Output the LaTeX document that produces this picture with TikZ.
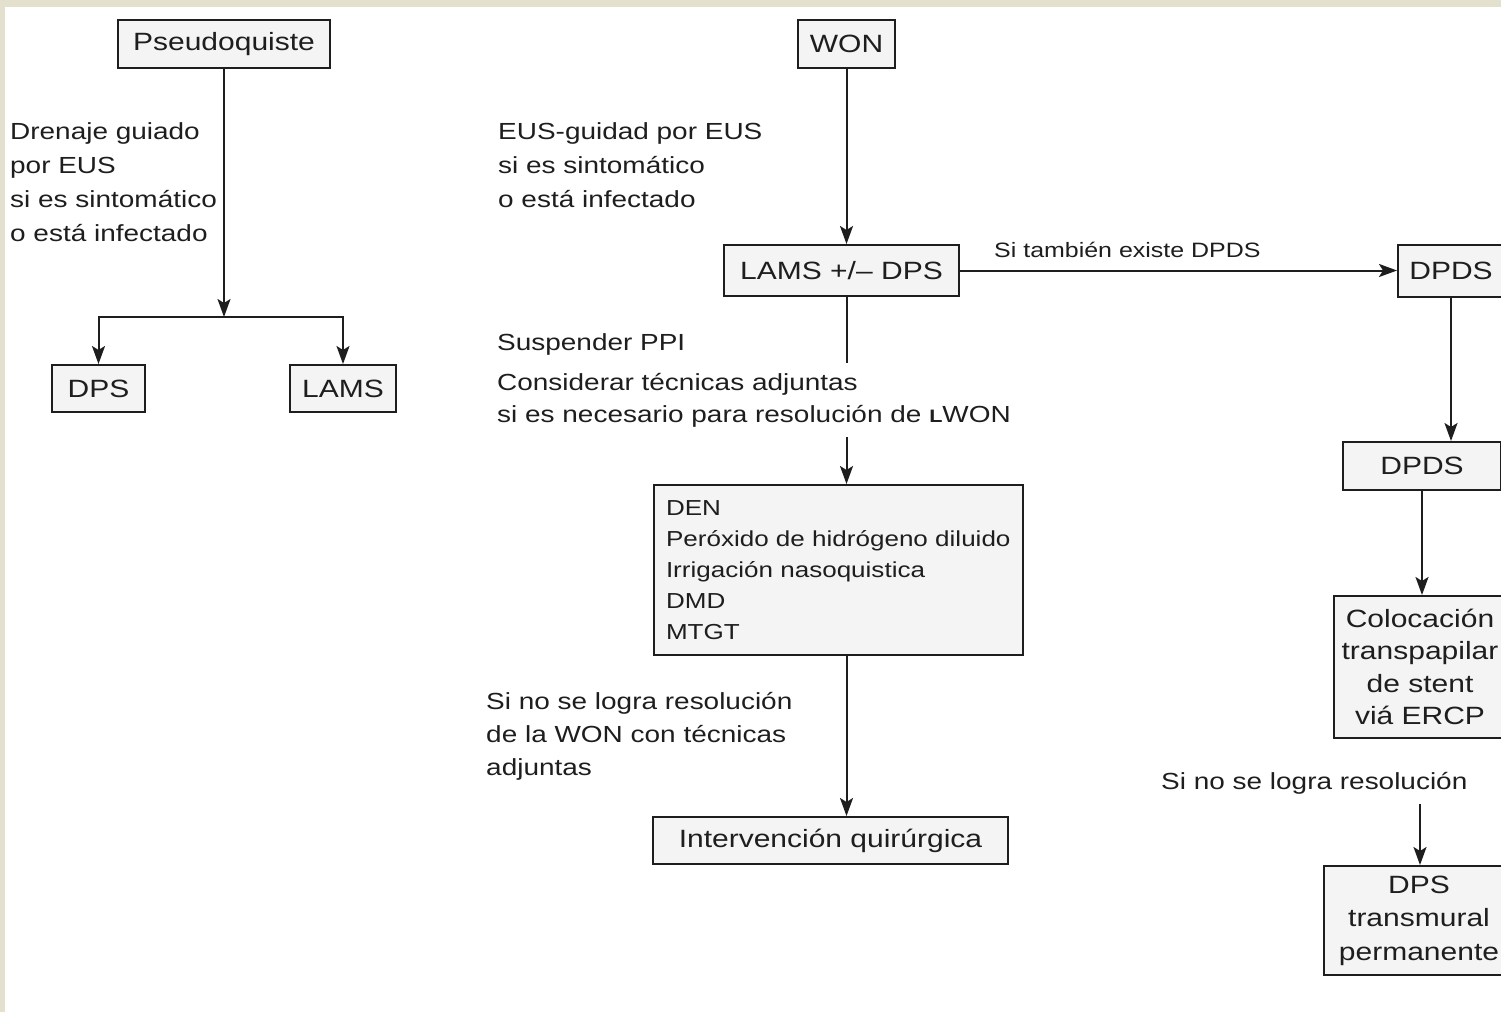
\documentclass[tikz,border=0pt]{standalone}
\usepackage{fontspec}
\setmainfont[FakeStretch=1.2]{Liberation Sans}
\usepackage{tikz}
\usetikzlibrary{
	arrows.meta,
	positioning,
	calc
}
\definecolor{framebg}{HTML}{E3E1CD}
\definecolor{boxfill}{HTML}{F4F4F4}
\definecolor{ink}{HTML}{1E1E1E}

\begin{document}
\begin{tikzpicture}[x=1pt, y=-1pt,
				box/.style={
					rectangle, draw=ink, line width=2pt,
					inner sep=0pt, align=center, fill=boxfill, text=ink,
					font=\fontsize{25}{33}\selectfont
				},
				listbox/.style={
					box, align=left, inner xsep=12pt,
					font=\fontsize{21.7}{31}\selectfont
				},
				note/.style={
					align=left, inner sep=0pt, text=ink,
					font=\fontsize{23.3}{34}\selectfont
				},
				smallnote/.style={
					note, font=\fontsize{20.8}{26}\selectfont
				},
				arrow/.style={-{Stealth[length=18pt, width=13pt, inset=4pt]}, line width=2pt, draw=ink},
				link/.style={line width=2pt, draw=ink},
				]
				
				\useasboundingbox (0,0) rectangle (1501,1012);
				\fill[framebg] (0,0) rectangle (1501,1012);
				\fill[white] (5,7) rectangle (1501,1012);
				\clip (0,0) rectangle (1501,1012);
				
				%pseudoquiste
				\node (pseudo) at (224,44) [box, minimum width=212pt, minimum height=48pt] {Pseudoquiste};
				\node (drenaje) at (10,182) [note, anchor=west] {Drenaje guiado\\por EUS\\si es sintomático\\o está infectado};
				\coordinate (fork) at (224,317);
				\draw [arrow] (pseudo) -- (fork);
				
				\node (dps) at (98.5,388.5) [box, minimum width=93pt, minimum height=47pt] {DPS};
				\node (lams) at (343,388.5) [box, minimum width=106pt, minimum height=47pt] {LAMS};
				\draw [arrow] (fork) -| (dps);
				\draw [arrow] (fork) -| (lams);
				
				%WON
				\node (won) at (846.5,44) [box, minimum width=97pt, minimum height=48pt] {WON};
				\node (eus) at (498,165) [note, anchor=west] {EUS-guidad por EUS\\si es sintomático\\o está infectado};
				
				\node (lamsdps) at (841.5,270.5) [box, minimum width=235pt, minimum height=51pt] {LAMS +/– DPS};
				\draw [arrow] (won) -- (won |- lamsdps.north);
				
				\node (suspender) at (497,344) [note, anchor=west] {Suspender PPI};
				\node (consid) at (497,400) [note, anchor=west, minimum height=74pt, font=\fontsize{23.3}{32}\selectfont] {Considerar técnicas adjuntas\\si es necesario para resolución de {\bfseries\fontsize{18}{18}\selectfont L}WON};
				\draw [link] (won |- lamsdps.south) -- (won |- consid.north);
				
				\node (den) at (838.5,570) [listbox, text width=345pt, minimum height=170pt] {DEN\\Peróxido de hidrógeno diluido\\Irrigación nasoquistica\\DMD\\MTGT};
				\draw [arrow] (won |- consid.south) -- (won |- den.north);
				
				\node (sinlogro) at (486,736) [note, anchor=west, font=\fontsize{23.3}{33}\selectfont] {Si no se logra resolución\\de la WON con técnicas\\adjuntas};
				\node (interv) at (830.5,840.5) [box, minimum width=355pt, minimum height=47pt] {Intervención quirúrgica};
				\draw [arrow] (won |- den.south) -- (won |- interv.north);
				
				%DPDS
				\node (dpdsA) at (1451,271) [box, minimum width=106pt, minimum height=52pt] {DPDS};
				\node (tambien) at (994,250) [smallnote, anchor=west] {Si también existe DPDS};
				\draw [arrow] (lamsdps.east) -- (lamsdps.east -| dpdsA.west);
				
				\node (dpdsB) at (1422,466) [box, minimum width=158pt, minimum height=48pt] {DPDS};
				\draw [arrow] (dpdsA) -- (dpdsA |- dpdsB.north);
				
				\node (coloc) at (1420,667) [box, minimum width=172pt, minimum height=142pt, font=\fontsize{25}{32.5}\selectfont] {Colocación\\transpapilar\\de stent\\viá ERCP};
				\draw [arrow] (dpdsB) -- (dpdsB |- coloc.north);
				
				\node (sinres) at (1161,783) [note, anchor=west, inner ysep=10pt] {Si no se logra resolución};
				\node (permanente) at (1419,920.5) [box, minimum width=190pt, minimum height=109pt, font=\fontsize{25}{33.5}\selectfont] {DPS\\transmural\\permanente};
				\draw [arrow] (coloc |- sinres.south) -- (coloc |- permanente.north);
			\end{tikzpicture}
\end{document}
